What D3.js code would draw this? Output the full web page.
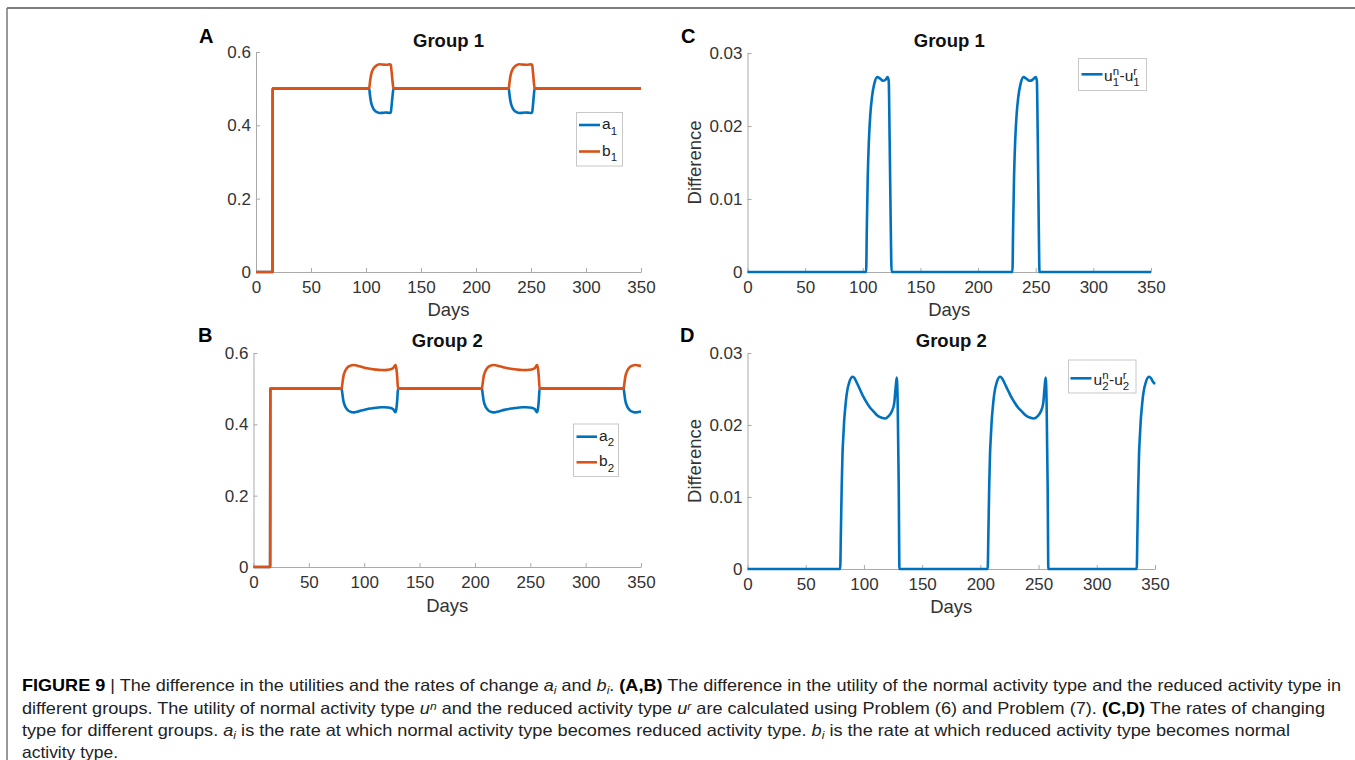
<!DOCTYPE html>
<html>
<head>
<meta charset="utf-8">
<title>Figure 9</title>
<style>
  body { margin:0; background:#fff; }
  svg { display:block; font-family: Helvetica, Arial, 'Liberation Sans', sans-serif; }
  .tick text { font-size:17px; fill:#333; }
  .caption { font-size:16.5px; fill:#222; white-space:pre; }
</style>
</head>
<body>
<svg id="fig" width="1355" height="760"></svg>
<script src="https://cdn.jsdelivr.net/npm/d3@7"></script>
<script>

// ---- data ----
const xTicks = [0, 50, 100, 150, 200, 250, 300, 350];
const rateTicks = [0, 0.2, 0.4, 0.6];
const diffTicks = [0, 0.01, 0.02, 0.03];

// group 1 rates, [day, value]
const a1 = [[0,0],[15,0],[15.2,0.5],[102.9,0.5],[103.5,0.485],[104.3,0.4675],[105.3,0.4551],[106.5,0.4465],[108,0.4403],[110,0.4359],[112.5,0.4336],[115,0.4341],[117.5,0.4349],[119.5,0.4346],[121.5,0.4336],[122.5,0.4349],[123.3,0.4551],[124.2,0.4825],[125,0.5],
  [229.8,0.5],[230.4,0.485],[231.2,0.4675],[232.2,0.4551],[233.4,0.4465],[234.9,0.4403],[236.9,0.4359],[239.3,0.4336],[241.8,0.4341],[244.5,0.4349],[247,0.4346],[250,0.4336],[251,0.4349],[251.8,0.4551],[252.6,0.4825],[253.3,0.5],[350,0.5]];
const b1 = [[0,0],[15,0],[15.2,0.5],[102.9,0.5],[103.5,0.515],[104.3,0.5325],[105.3,0.5449],[106.5,0.5535],[108,0.5597],[110,0.5641],[112.5,0.5664],[115,0.5659],[117.5,0.5651],[119.5,0.5654],[121.5,0.5664],[122.5,0.5651],[123.3,0.5449],[124.2,0.5175],[125,0.5],
  [229.8,0.5],[230.4,0.515],[231.2,0.5325],[232.2,0.5449],[233.4,0.5535],[234.9,0.5597],[236.9,0.5641],[239.3,0.5664],[241.8,0.5659],[244.5,0.5651],[247,0.5654],[250,0.5664],[251,0.5651],[251.8,0.5449],[252.6,0.5175],[253.3,0.5],[350,0.5]];

// group 2 rates
const a2 = [[0,0],[15,0],[15.2,0.5],[79.6,0.5],[80.2,0.4875],[80.9,0.4715],[81.6,0.4601],[82.3,0.4544],[83,0.4489],[83.8,0.445],[85.3,0.4393],[87.5,0.4354],[90.4,0.4336],[92,0.4341],[93.8,0.4356],[96.7,0.4381],[99.6,0.4405],[102.4,0.4425],[105.3,0.4442],[108.2,0.4455],[111,0.4467],[115.3,0.4477],[118.2,0.448],[121,0.4472],[124,0.4455],[126,0.4428],[127.3,0.4371],[128.2,0.4339],[129,0.4428],[129.9,0.4715],[130.5,0.5],
  [206.3,0.5],[206.9,0.4875],[207.6,0.4715],[208.3,0.4601],[209,0.4544],[209.7,0.4489],[210.5,0.445],[212,0.4393],[214.2,0.4354],[217,0.4336],[218.6,0.4341],[220.5,0.4356],[223.5,0.4381],[226.5,0.4405],[229.5,0.4425],[232.5,0.4442],[235.5,0.4455],[238.5,0.4467],[243,0.4477],[246,0.448],[249,0.4472],[252,0.4455],[254,0.4428],[255.2,0.4371],[256.1,0.4339],[256.9,0.4428],[257.8,0.4715],[258.4,0.5],
  [334.3,0.5],[334.9,0.4875],[335.6,0.4715],[336.3,0.4601],[337,0.4544],[337.7,0.4489],[338.5,0.445],[340,0.4393],[342.2,0.4354],[345,0.4336],[346.6,0.4341],[348.3,0.4354],[350,0.4362]];
const b2 = [[0,0],[15,0],[15.2,0.5],[79.6,0.5],[80.2,0.5125],[80.9,0.5285],[81.6,0.5399],[82.3,0.5456],[83,0.5511],[83.8,0.555],[85.3,0.5607],[87.5,0.5646],[90.4,0.5664],[92,0.5659],[93.8,0.5644],[96.7,0.5619],[99.6,0.5595],[102.4,0.5575],[105.3,0.5558],[108.2,0.5545],[111,0.5533],[115.3,0.5523],[118.2,0.552],[121,0.5528],[124,0.5545],[126,0.5572],[127.3,0.5629],[128.2,0.5661],[129,0.5572],[129.9,0.5285],[130.5,0.5],
  [206.3,0.5],[206.9,0.5125],[207.6,0.5285],[208.3,0.5399],[209,0.5456],[209.7,0.5511],[210.5,0.555],[212,0.5607],[214.2,0.5646],[217,0.5664],[218.6,0.5659],[220.5,0.5644],[223.5,0.5619],[226.5,0.5595],[229.5,0.5575],[232.5,0.5558],[235.5,0.5545],[238.5,0.5533],[243,0.5523],[246,0.552],[249,0.5528],[252,0.5545],[254,0.5572],[255.2,0.5629],[256.1,0.5661],[256.9,0.5572],[257.8,0.5285],[258.4,0.5],
  [334.3,0.5],[334.9,0.5125],[335.6,0.5285],[336.3,0.5399],[337,0.5456],[337.7,0.5511],[338.5,0.555],[340,0.5607],[342.2,0.5646],[345,0.5664],[346.6,0.5659],[348.3,0.5646],[350,0.5638]];

// utility differences u^n - u^r
const diff1 = [[0,0],[102.9,0],[103.5,0.006],[104.3,0.013],[105.3,0.018],[106.5,0.0215],[108,0.024],[110,0.0258],[112.5,0.0267],[115,0.0265],[117.5,0.0262],[119.5,0.0263],[121.5,0.0267],[122.5,0.0262],[123.3,0.018],[124.2,0.007],[125,0],
  [229.8,0],[230.4,0.006],[231.2,0.013],[232.2,0.018],[233.4,0.0215],[234.9,0.024],[236.9,0.0258],[239.3,0.0267],[241.8,0.0265],[244.5,0.0262],[247,0.0263],[250,0.0267],[251,0.0262],[251.8,0.018],[252.6,0.007],[253.3,0],[350,0]];
const diff2 = [[0,0],[79.6,0],[80.2,0.005],[80.9,0.0114],[81.6,0.016],[82.3,0.0184],[83,0.0205],[83.8,0.0221],[85.3,0.0244],[87.5,0.026],[90.4,0.0267],[92,0.0265],[93.8,0.0259],[96.7,0.0249],[99.6,0.0239],[102.4,0.0231],[105.3,0.0224],[108.2,0.0219],[111,0.0214],[115.3,0.021],[118.2,0.0209],[121,0.0212],[124,0.0219],[126,0.023],[127.3,0.0253],[128.2,0.0266],[129,0.023],[129.9,0.0114],[130.5,0],
  [206.3,0],[206.9,0.005],[207.6,0.0114],[208.3,0.016],[209,0.0184],[209.7,0.0205],[210.5,0.0221],[212,0.0244],[214.2,0.026],[217,0.0267],[218.6,0.0265],[220.5,0.0259],[223.5,0.0249],[226.5,0.0239],[229.5,0.0231],[232.5,0.0224],[235.5,0.0219],[238.5,0.0214],[243,0.021],[246,0.0209],[249,0.0212],[252,0.0219],[254,0.023],[255.2,0.0253],[256.1,0.0266],[256.9,0.023],[257.8,0.0114],[258.4,0],
  [334.3,0],[334.9,0.005],[335.6,0.0114],[336.3,0.016],[337,0.0184],[337.7,0.0205],[338.5,0.0221],[340,0.0244],[342.2,0.026],[345,0.0267],[346.6,0.0265],[348.3,0.026],[350,0.0257]];

const blue = '#0072bd', orange = '#d95319';

// ---- layout ----
const panels = [
  { letter:'A', title:'Group 1', l:256, r:641, t:52, b:272, ymax:0.6, yticks:rateTicks, ylabel:null,
    letterPos:[199,43], titleY:46.5, daysY:316,
    series:[{d:a1,c:blue},{d:b1,c:orange}],
    legend:{x:576.5, y:112.5, w:46, h:53.5, lx:[579,600], tx:602, base:4,
      items:[{y:125,c:blue,parts:[{t:'a',sub:'1'}]},{y:151.5,c:orange,parts:[{t:'b',sub:'1'}]}]} },
  { letter:'B', title:'Group 2', l:253.5, r:641, t:353, b:567, ymax:0.6, yticks:rateTicks, ylabel:null,
    letterPos:[198,341.5], titleY:346.5, daysY:612,
    series:[{d:a2,c:blue},{d:b2,c:orange}],
    legend:{x:573.5, y:424, w:45, h:52.5, lx:[576.5,597], tx:599, base:4,
      items:[{y:436.7,c:blue,parts:[{t:'a',sub:'2'}]},{y:462.3,c:orange,parts:[{t:'b',sub:'2'}]}]} },
  { letter:'C', title:'Group 1', l:747.5, r:1151, t:53, b:272, ymax:0.03, yticks:diffTicks, ylabel:'Difference',
    letterPos:[681,43], titleY:46.5, daysY:316,
    series:[{d:diff1,c:blue}],
    legend:{x:1078.5, y:58.5, w:68, h:32, lx:[1081.5,1102.5], tx:1104, base:6.5,
      items:[{y:74.3,c:blue,parts:[{t:'u',sup:'n',sub:'1'},{t:'-u',sup:'r',sub:'1'}]}]} },
  { letter:'D', title:'Group 2', l:747.5, r:1155, t:353, b:569, ymax:0.03, yticks:diffTicks, ylabel:'Difference',
    letterPos:[680,341.5], titleY:346.5, daysY:613,
    series:[{d:diff2,c:blue}],
    legend:{x:1068.5, y:360, w:67.5, h:33, lx:[1070.5,1091.5], tx:1093.5, base:6.5,
      items:[{y:378.3,c:blue,parts:[{t:'u',sup:'n',sub:'2'},{t:'-u',sup:'r',sub:'2'}]}]} }
];

const svg = d3.select('#fig');

// frame lines (top and left)
svg.append('line').attr('x1', 7).attr('x2', 1355).attr('y1', 8).attr('y2', 8)
  .attr('stroke', '#555').attr('stroke-width', 1.5);
svg.append('line').attr('x1', 7).attr('x2', 7).attr('y1', 8).attr('y2', 760)
  .attr('stroke', '#777').attr('stroke-width', 1.5);

const fmt = v => v === 0 ? '0' : String(v);

function drawLabel(g, x, y, parts) {
  let cx = x;
  parts.forEach(p => {
    const main = g.append('text').attr('x', cx).attr('y', y)
      .style('font-size', '15.5px').attr('fill', '#222').text(p.t);
    cx += main.node().getComputedTextLength();
    let w = 0;
    if (p.sup) {
      const s = g.append('text').attr('x', cx).attr('y', y - 6)
        .style('font-size', '11.5px').attr('fill', '#222').text(p.sup);
      w = Math.max(w, s.node().getComputedTextLength());
    }
    if (p.sub) {
      const s = g.append('text').attr('x', cx).attr('y', y + 5.5)
        .style('font-size', '11.5px').attr('fill', '#222').text(p.sub);
      w = Math.max(w, s.node().getComputedTextLength());
    }
    cx += w + 0.5;
  });
}

panels.forEach(p => {
  const x = d3.scaleLinear().domain([0, 350]).range([p.l, p.r]);
  const y = d3.scaleLinear().domain([0, p.ymax]).range([p.b, p.t]);
  const g = svg.append('g');

  const xAxis = g.append('g').attr('transform', 'translate(0,' + p.b + ')')
    .call(d3.axisBottom(x).tickValues(xTicks).tickSizeInner(-4).tickSizeOuter(0).tickPadding(9));
  const yAxis = g.append('g').attr('transform', 'translate(' + p.l + ',0)')
    .call(d3.axisLeft(y).tickValues(p.yticks).tickFormat(fmt).tickSizeInner(-4).tickSizeOuter(0).tickPadding(5));
  [xAxis, yAxis].forEach(a => {
    a.select('.domain').attr('stroke', '#aaa');
    a.selectAll('.tick line').attr('stroke', '#aaa');
    a.selectAll('.tick text').attr('fill', '#333').style('font-family', 'Helvetica, Arial, sans-serif');
  });

  const line = d3.line().x(d => x(d[0])).y(d => y(d[1])).curve(d3.curveMonotoneX);
  p.series.forEach(s => {
    g.append('path').datum(s.d).attr('d', line)
      .attr('fill', 'none').attr('stroke', s.c).attr('stroke-width', 2.6)
      .attr('stroke-linejoin', 'round');
  });

  // titles and labels
  g.append('text').attr('x', (p.l + p.r) / 2).attr('y', p.titleY).attr('text-anchor', 'middle')
    .style('font-size', '18.5px').style('font-weight', 'bold').attr('fill', '#111').text(p.title);
  g.append('text').attr('x', p.letterPos[0]).attr('y', p.letterPos[1])
    .style('font-size', '20px').style('font-weight', 'bold').attr('fill', '#000').text(p.letter);
  g.append('text').attr('x', (p.l + p.r) / 2).attr('y', p.daysY).attr('text-anchor', 'middle')
    .style('font-size', '18.5px').attr('fill', '#333').text('Days');
  if (p.ylabel) {
    g.append('text').attr('transform', 'translate(701,' + ((p.t + p.b) / 2) + ') rotate(-90)')
      .attr('text-anchor', 'middle').style('font-size', '18.5px').attr('fill', '#333').text(p.ylabel);
  }

  // legend
  const L = p.legend;
  const lg = g.append('g');
  lg.append('rect').attr('x', L.x).attr('y', L.y).attr('width', L.w).attr('height', L.h)
    .attr('fill', '#fff').attr('stroke', '#c8c8c8').attr('stroke-width', 1);
  L.items.forEach(it => {
    lg.append('line').attr('x1', L.lx[0]).attr('x2', L.lx[1]).attr('y1', it.y).attr('y2', it.y)
      .attr('stroke', it.c).attr('stroke-width', 2.6);
    drawLabel(lg, L.tx, it.y + L.base, it.parts);
  });
});

// ---- caption ----
const captionLines = [
  { y:691, len:1319, segs:[['FIGURE 9','b'],[' | '],['The difference in the utilities and the rates of change '],['a','i'],['i','isub'],[' and '],['b','i'],['i','isub'],['. '],['(A,B)','b'],[' The difference in the utility of the normal activity type and the reduced activity type in']] },
  { y:713.5, len:1303, segs:[['different groups. The utility of normal activity type '],['u','i'],['n','isup'],[' and the reduced activity type '],['u','i'],['r','isup'],[' are calculated using Problem (6) and Problem (7). '],['(C,D)','b'],[' The rates of changing']] },
  { y:736, len:1268, segs:[['type for different groups. '],['a','i'],['i','isub'],[' is the rate at which normal activity type becomes reduced activity type. '],['b','i'],['i','isub'],[' is the rate at which reduced activity type becomes normal']] },
  { y:758, len:96, segs:[['activity type.']] }
];

captionLines.forEach(cl => {
  const t = svg.append('text').attr('class', 'caption').attr('x', 22).attr('y', cl.y)
    .style('font-family', "'Liberation Sans', Arial, sans-serif");
  if (cl.len) t.attr('textLength', cl.len).attr('lengthAdjust', 'spacingAndGlyphs');
  cl.segs.forEach(s => {
    const ts = t.append('tspan').text(s[0]);
    const st = s[1] || '';
    if (st === 'b') ts.style('font-weight', 'bold').attr('fill', '#000');
    if (st.startsWith('i')) ts.style('font-style', 'italic');
    if (st === 'isub') ts.attr('baseline-shift', '-25%').style('font-size', '11px');
    if (st === 'isup') ts.attr('baseline-shift', '40%').style('font-size', '11px');
  });
});

</script>
</body>
</html>
